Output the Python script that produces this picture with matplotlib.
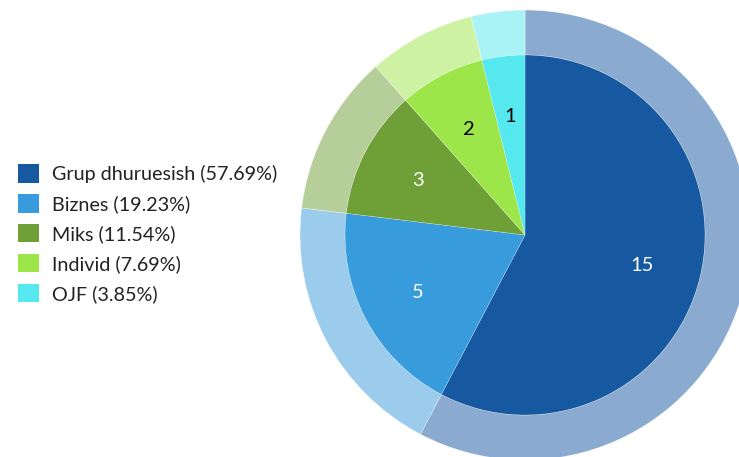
import matplotlib
matplotlib.use("Agg")
import matplotlib.pyplot as plt
from matplotlib.patches import Patch
from matplotlib.colors import to_rgba

plt.rcParams['font.family'] = ['Lato', 'DejaVu Sans']

categories = ["Grup dhuruesish", "Biznes", "Miks", "Individ", "OJF"]
values = [15, 5, 3, 2, 1]
colors = ["#1659A0", "#389BDB", "#6F9F37", "#9DE64A", "#55E8EE"]
label_colors = ["white", "white", "white", "black", "black"]

total = sum(values)
legend_labels = [f"{c} ({v / total * 100:.2f}%)" for c, v in zip(categories, values)]

fig = plt.figure(figsize=(7.39, 4.57), dpi=100)
ax = fig.add_axes([0, 0, 1, 1])

cx, cy = 525, 222
r_in, r_out = 180, 225

outer_cols = [to_rgba(c, 0.5) for c in colors]
ax.pie(values, colors=outer_cols, radius=r_out, center=(cx, cy), startangle=90,
       counterclock=False, wedgeprops=dict(width=r_out - r_in, edgecolor=(1, 1, 1, 0.6), linewidth=0.4),
       frame=True)
wedges, texts = ax.pie(values, colors=colors, radius=r_in, center=(cx, cy), startangle=90,
                       counterclock=False, labels=[str(v) for v in values], labeldistance=0.67,
                       wedgeprops=dict(edgecolor=(1, 1, 1, 0.5), linewidth=0.3),
                       textprops=dict(fontsize=14.5), frame=True)
for t, lc in zip(texts, label_colors):
    t.set_color(lc)
    t.set_horizontalalignment("center")
    t.set_verticalalignment("center_baseline")

ax.set_xlim(0, 739)
ax.set_ylim(0, 457)
ax.set_aspect("equal")
ax.axis("off")

handles = [Patch(facecolor=c, edgecolor="none") for c in colors]
leg = fig.legend(handles, legend_labels, loc="upper left", bbox_to_anchor=(18 / 739, 1 - 164.5 / 457),
                 frameon=False, fontsize=14.25, handlelength=1.05, handleheight=1.05,
                 handletextpad=0.65, labelspacing=0.55, borderaxespad=0, borderpad=0)
for t in leg.get_texts():
    t.set_color("#222222")

fig.savefig("out.png", dpi=100)
